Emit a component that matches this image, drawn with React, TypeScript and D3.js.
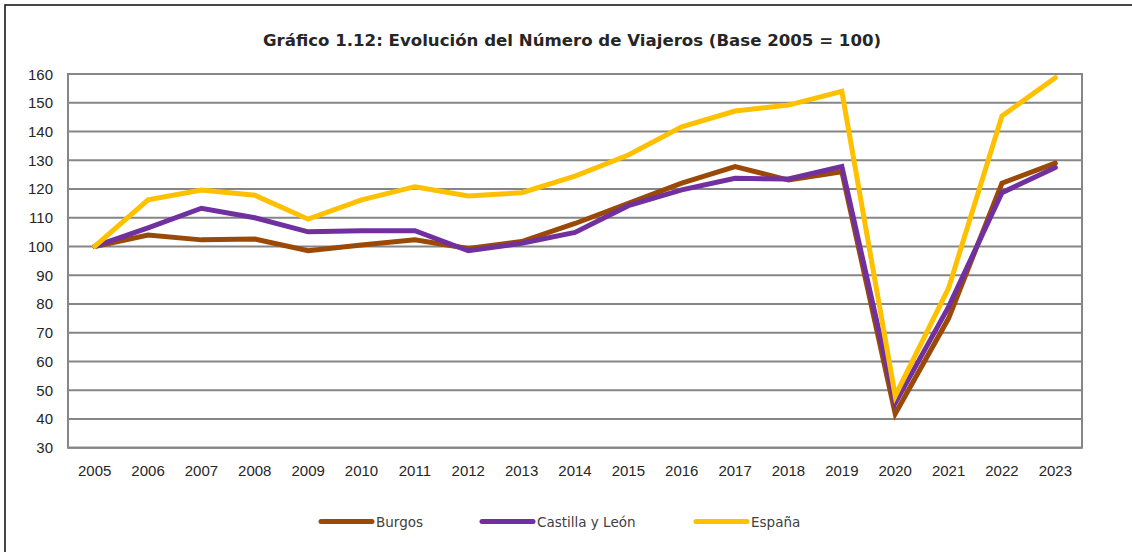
import React from "react";
import * as d3 from "d3";

const years = ["2005","2006","2007","2008","2009","2010","2011","2012","2013","2014","2015","2016","2017","2018","2019","2020","2021","2022","2023"];
const burgos = [100, 104, 102.3, 102.6, 98.5, 100.5, 102.3, 99.3, 101.7, 108, 115, 122, 127.8, 123.1, 126, 41.8, 75, 122, 129];
const castillaLeon = [100, 106.5, 113.3, 110, 105.1, 105.5, 105.5, 98.5, 101.1, 104.9, 114.2, 119.7, 123.7, 123.5, 127.8, 45.5, 79, 118.7, 127.5];
const espana = [100, 116.2, 119.6, 117.8, 109.5, 116.2, 120.8, 117.6, 118.7, 124.5, 131.8, 141.6, 147.1, 149.2, 154, 48, 85.5, 145.4, 158.7];
const yTicks = [30, 40, 50, 60, 70, 80, 90, 100, 110, 120, 130, 140, 150, 160];
const seriesNames = ["Burgos", "Castilla y León", "España"];
const seriesColors = ["#9A4A06", "#7030A0", "#FFC000"];
const title = "Gráfico 1.12: Evolución del Número de Viajeros (Base 2005 = 100)";

export default function App() {
  const left = 68, right = 1082, top = 74, bottom = 447.7;
  const x = d3.scaleBand<string>().domain(years).range([left, right]);
  const y = d3.scaleLinear().domain([30, 160]).range([bottom, top]);
  const line = d3.line<number>()
    .x((_, i) => (x(years[i]) as number) + x.bandwidth() / 2)
    .y((d) => y(d));
  const data = [burgos, castillaLeon, espana];
  const legendX = [321, 482, 696];
  return (
    <div style={{ position: "absolute", left: 0, top: 0 }}>
      <svg width={1132} height={552} style={{ display: "block", background: "#fff" }}>
        <rect x={5} y={5} width={1140} height={560} fill="#fff" stroke="#1a1a1a" strokeWidth={1.6} />
        <text x={572} y={46} textAnchor="middle" fontFamily="'DejaVu Sans', Verdana, sans-serif" fontWeight="bold" fontSize={16.6} fill="#262626">{title}</text>
        {yTicks.map((t) => (
          <g key={t}>
            <line x1={left} x2={right} y1={y(t)} y2={y(t)} stroke="#868686" strokeWidth={2} />
            <text x={53} y={y(t) + 5.5} textAnchor="end" fontFamily="'Liberation Sans', Arial, sans-serif" fontSize={15} fill="#262626">{t}</text>
          </g>
        ))}
        <rect x={left} y={top} width={right - left} height={bottom - top} fill="none" stroke="#868686" strokeWidth={2} />
        {years.map((yr) => (
          <text key={yr} x={(x(yr) as number) + x.bandwidth() / 2} y={475.5} textAnchor="middle" fontFamily="'Liberation Sans', Arial, sans-serif" fontSize={15} fill="#262626">{yr}</text>
        ))}
        {data.map((d, i) => (
          <path key={i} d={line(d) || ""} fill="none" stroke={seriesColors[i]} strokeWidth={5} strokeLinejoin="miter" strokeLinecap="round" />
        ))}
        {seriesNames.map((n, i) => (
          <g key={n}>
            <line x1={legendX[i]} x2={legendX[i] + 51} y1={521.5} y2={521.5} stroke={seriesColors[i]} strokeWidth={5} strokeLinecap="round" />
            <text x={legendX[i] + 55} y={526.5} fontFamily="'DejaVu Sans', Verdana, sans-serif" fontSize={13.5} fill="#404040">{n}</text>
          </g>
        ))}
      </svg>
    </div>
  );
}
